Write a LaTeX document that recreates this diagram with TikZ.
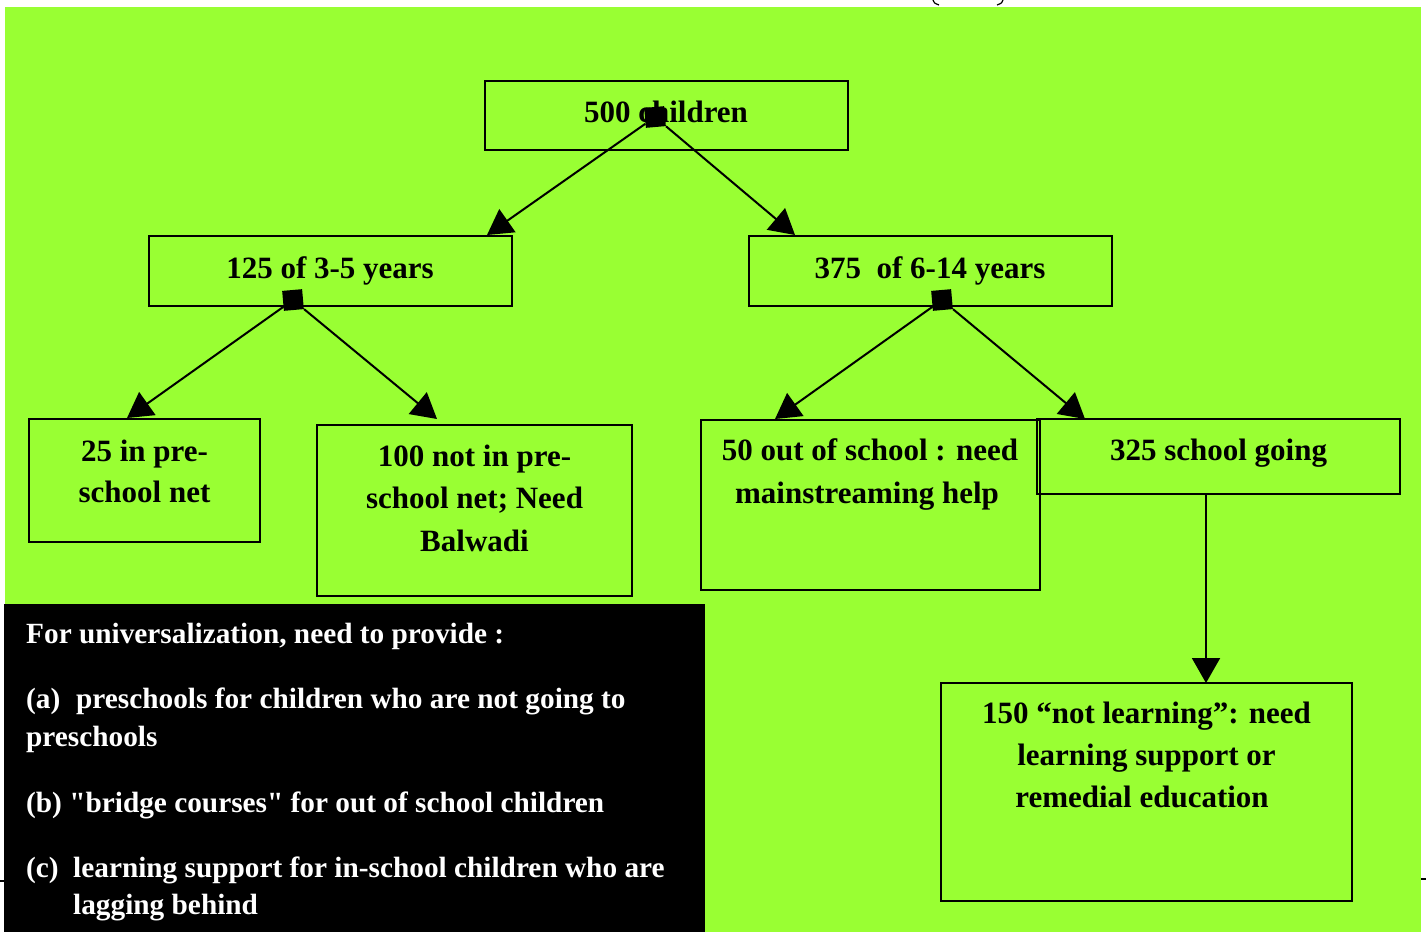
\documentclass[tikz,border=0pt]{standalone}
\usepackage{fontspec}
\setmainfont{Liberation Serif}[Ligatures=TeXOff]
\usetikzlibrary{arrows.meta}
\definecolor{bg}{RGB}{153,255,51}
\tikzset{
  box/.style={draw=black, line width=2pt, inner sep=0pt},
  lbl/.style={inner sep=0pt, anchor=base, font=\fontsize{31}{40}\selectfont\bfseries},
  note/.style={inner sep=0pt, anchor=base west, text=white, font=\fontsize{29.3}{37}\selectfont\bfseries},
  sq/.style={fill=black, inner sep=0pt, minimum size=20pt, rotate=5},
  arr/.style={line width=2pt, -{Triangle[length=25pt,width=28pt]}}
}
\begin{document}
\begin{tikzpicture}[x=1pt,y=-1pt]
\useasboundingbox (0,0) rectangle (1426,932);
\fill[bg] (5,7) rectangle (1421,932);
\fill[black] (4,604) rectangle (705,932);
% tiny marks at page edges
\draw[line width=1.5pt] (0,881) -- (4,881);
\draw[line width=1.5pt] (1421,879) -- (1426,879);
\draw[line width=1.2pt] (933,0) .. controls (934,3) .. (939,5);
\draw[line width=1.2pt] (1003,0) .. controls (1002,3) .. (997,5);

% boxes
\node[box, minimum width=363pt, minimum height=69pt] (n500) at (666.5,115.5) {};
\node[box, minimum width=363pt, minimum height=70pt] (n125) at (330.5,271) {};
\node[box, minimum width=363pt, minimum height=70pt] (n375) at (930.5,271) {};
\node[box, minimum width=231pt, minimum height=123pt] (n25) at (144.5,480.5) {};
\node[box, minimum width=315pt, minimum height=171pt] (n100) at (474.5,510.5) {};
\node[box, minimum width=339pt, minimum height=170pt] (n50) at (870.5,505) {};
\node[box, minimum width=363pt, minimum height=75pt] (n325) at (1218.5,456.5) {};
\node[box, minimum width=411pt, minimum height=218pt] (n150) at (1146.5,792) {};

% texts
\node[lbl] (t500) at (666,122) {500 children};
\node[lbl] (t125) at (330,278) {125 of 3-5 years};
\node[lbl] (t375) at (930,278) {375\ \ of 6-14 years};
\node[lbl] (t25a) at (144.5,461) {25 in pre-};
\node[lbl] (t25b) at (144.5,502) {school net};
\node[lbl] (t100a) at (474.5,466) {100 not in pre-};
\node[lbl] (t100b) at (474.5,508) {school net; Need};
\node[lbl] (t100c) at (474.5,551) {Balwadi};
\node[lbl] (t50a) at (870,460) {50 out of school : need};
\node[lbl] (t50b) at (867,503) {mainstreaming help};
\node[lbl] (t325) at (1218.5,460) {325 school going};
\node[lbl] (t150a) at (1146.5,723) {150 “not learning”: need};
\node[lbl] (t150b) at (1146.5,765) {learning support or};
\node[lbl] (t150c) at (1142,807) {remedial education};

% squares
\node[sq] (s500) at (655,117) {};
\node[sq] (s125) at (293,300) {};
\node[sq] (s375) at (942,300) {};

% arrow targets
\coordinate (e1) at (487,235);
\coordinate (e2) at (795,235);
\coordinate (e3) at (127,418);
\coordinate (e4) at (437,419);
\coordinate (e5) at (775,419);
\coordinate (e6) at (1085,419);
\coordinate (c325) at (1206,494);
\coordinate (e7) at (1206,683);

\draw[arr] (s500) -- (e1);
\draw[arr] (s500) -- (e2);
\draw[arr] (s125) -- (e3);
\draw[arr] (s125) -- (e4);
\draw[arr] (s375) -- (e5);
\draw[arr] (s375) -- (e6);
\draw[arr] (c325) -- (e7);

% note text
\node[note] (l1) at (26,643) {For universalization, need to provide :};
\node[note] (l2a) at (26,708) {(a)};
\node[note] (l2b) at (76,708) {preschools for children who are not going to};
\node[note] (l3) at (26,746) {preschools};
\node[note] (l4) at (26,812) {(b) "bridge courses" for out of school children};
\node[note] (l5a) at (26,877) {(c)};
\node[note] (l5b) at (73,877) {learning support for in-school children who are};
\node[note] (l6) at (73,914) {lagging behind};
\end{tikzpicture}
\end{document}
